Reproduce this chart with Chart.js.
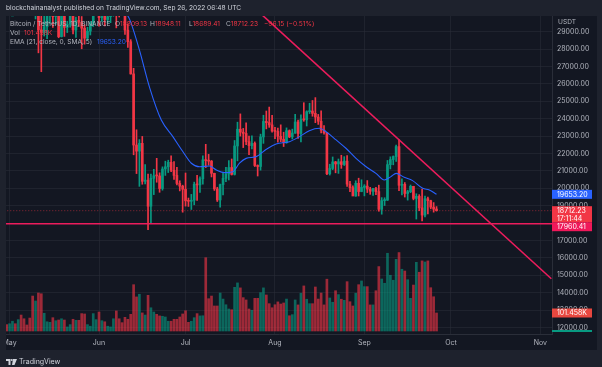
<!DOCTYPE html>
<html>
<head>
<meta charset="utf-8">
<script src="https://cdn.jsdelivr.net/npm/chart.js@4.4.1/dist/chart.umd.min.js"></script>
<style>
  html, body { margin: 0; padding: 0; background: #1e222d; }
  #wrap { position: relative; width: 602px; height: 367px; overflow: hidden; font-family: Inter, "Noto Sans", sans-serif; }
  #btc { position: absolute; left: 0; top: 0; }
  .t { position: absolute; white-space: nowrap; font-size: 6.6px; line-height: 9px; color: #b2b5be; }
  .r { color: #f23645; }
  .b { color: #2962ff; }
</style>
</head>
<body>
<div id="wrap">
  <canvas id="btc" width="602" height="367"></canvas>
  <div class="t" style="left:6px;top:3.5px;color:#d1d4dc">blockchainanalyst published on TradingView.com, Sep 26, 2022 06:48 UTC</div>
  <div class="t" style="left:10px;top:19.5px">Bitcoin / TetherUS, 1D, BINANCE</div>
  <div class="t" style="left:115px;top:19.5px">O<span class="r">18809.13</span></div>
  <div class="t" style="left:150px;top:19.5px">H<span class="r">18948.11</span></div>
  <div class="t" style="left:189px;top:19.5px">L<span class="r">18689.41</span></div>
  <div class="t" style="left:226px;top:19.5px">C<span class="r">18712.23</span></div>
  <div class="t r" style="left:264px;top:19.5px">−96.15 (−0.51%)</div>
  <div class="t" style="left:10px;top:29px">Vol</div>
  <div class="t r" style="left:24px;top:29px">101.458K</div>
  <div class="t" style="left:10px;top:38px">EMA (21, close, 0, SMA, 5)</div>
  <div class="t b" style="left:97px;top:38px">19653.20</div>
  <div class="t" style="left:558px;top:18px">USDT</div>
  <div class="t" style="left:6px;top:357px;font-size:7px;color:#d1d4dc">
    <svg width="11" height="6" viewBox="0 0 22 12" style="vertical-align:-0.5px"><path d="M0 0h9v12H5V4H0z M14 0h8l-5 12h-5z" fill="#d1d4dc"/><circle cx="11.5" cy="2" r="2" fill="#d1d4dc"/></svg>
    TradingView
  </div>
</div>
<script>
// daily candles, 30 Apr 2022 (day 0) .. 26 Sep 2022 (day 149)
var opens = [38596, 37630, 38468, 38525, 37728, 39690, 36552, 36014, 35468, 34039,
  30076, 31017, 29104, 28963, 29284, 30102, 31306, 29867, 30425, 28716,
  30316, 29245, 29432, 30323, 29098, 29655, 29542, 29201, 28629, 29031,
  29468, 31734, 31801, 29805, 30452, 29700, 29865, 29919, 31373, 31125,
  30205, 30110, 29091, 28424, 26574, 22487, 22136, 22583, 20401, 20468,
  18970, 20574, 20720, 20710, 19988, 21110, 21237, 21492, 21038, 20742,
  20281, 20124, 19942, 19280, 19253, 19316, 20234, 20195, 20549, 21637,
  21590, 21560, 20862, 19963, 19329, 20212, 20570, 20825, 21195, 20798,
  22432, 23396, 23223, 23152, 22684, 22452, 22579, 21310, 21254, 22952,
  23843, 23774, 23643, 23293, 23269, 22988, 22819, 22626, 23313, 22955,
  23175, 23810, 23150, 23954, 23934, 24403, 24441, 24305, 24095, 23854,
  23342, 23191, 20834, 21140, 21516, 21399, 21529, 21368, 21560, 20241,
  20037, 19555, 20285, 19813, 20050, 20127, 19953, 19832, 19987, 19812,
  18791, 19290, 19320, 21361, 21652, 21826, 22396, 20173, 20227, 19701,
  19803, 20113, 19417, 19537, 18875, 18461, 19402, 19289, 18920, 18809.13];
var highs = [38795, 38675, 39167, 38651, 40023, 39845, 36675, 36146, 35510, 34244,
  32659, 32190, 30033, 30999, 30343, 31460, 31307, 30788, 30671, 30545,
  30777, 29600, 30487, 30670, 29847, 30224, 29872, 29397, 29251, 29587,
  32222, 32399, 31982, 30689, 30679, 29955, 30172, 31765, 31589, 31325,
  30700, 30390, 29440, 28544, 26895, 23363, 22800, 22980, 21365, 20815,
  20815, 21090, 21723, 20890, 21233, 21558, 21614, 21868, 21540, 21210,
  20432, 20179, 20879, 19440, 19650, 20354, 20750, 20660, 21860, 22527,
  21950, 21600, 20868, 20059, 20242, 20880, 21200, 21592, 21684, 22747,
  23800, 24276, 23442, 23756, 22998, 23014, 22666, 21347, 23112, 24199,
  24442, 24668, 24194, 23509, 23459, 23647, 23223, 23472, 23354, 23400,
  24245, 23925, 24227, 24918, 24456, 24888, 25047, 25212, 24247, 24446,
  23600, 23208, 21382, 21800, 21548, 21684, 21900, 21819, 21887, 20402,
  20142, 20432, 20580, 20489, 20209, 20445, 20055, 20000, 20058, 20180,
  19464, 19457, 21600, 21811, 21860, 22488, 22799, 20542, 20330, 19890,
  20189, 20117, 19686, 19634, 19956, 19550, 19500, 19316, 19180, 18948.11];
var lows = [37578, 37386, 38052, 37511, 37670, 35571, 35258, 34785, 33713, 30033,
  29731, 27785, 26700, 28751, 28604, 29480, 29251, 29424, 28654, 28693,
  28730, 28950, 29255, 28866, 28669, 29295, 28019, 28282, 28500, 28810,
  29300, 31200, 29311, 29594, 29332, 29485, 29520, 29892, 29219, 29844,
  29945, 28850, 28100, 26560, 21925, 20846, 20111, 20232, 20246, 17622,
  17960, 19637, 20348, 19771, 19892, 20740, 20906, 20950, 20510, 20200,
  19850, 18626, 18975, 18957, 18782, 19052, 19304, 19760, 20240, 21189,
  21330, 20652, 19875, 19240, 18910, 19616, 20381, 20478, 20761, 20761,
  21580, 23000, 22341, 22500, 21934, 22256, 21250, 20706, 21042, 22582,
  23414, 23502, 23227, 22850, 22654, 22681, 22400, 22587, 22910, 22837,
  23150, 22865, 22664, 23852, 23580, 24296, 24140, 23773, 23671, 23180,
  23111, 20783, 20761, 21069, 20890, 20856, 21145, 21310, 20107, 19800,
  19600, 19540, 19558, 19800, 19565, 19755, 19652, 19596, 19633, 18681,
  18510, 19011, 19297, 21111, 21350, 21538, 19860, 19617, 19497, 19320,
  19748, 19335, 18232, 18711, 18125, 18356, 18531, 18821, 18629, 18689.41];
var closes = [37630, 38468, 38525, 37728, 39690, 36552, 36014, 35468, 34039, 30076,
  31017, 29104, 28963, 29284, 30102, 31306, 29867, 30425, 28716, 30316,
  29245, 29432, 30323, 29098, 29655, 29542, 29201, 28629, 29031, 29468,
  31734, 31801, 29805, 30452, 29700, 29865, 29919, 31373, 31125, 30205,
  30110, 29091, 28424, 26574, 22487, 22136, 22583, 20401, 20468, 18970,
  20574, 20720, 20710, 19988, 21110, 21237, 21492, 21038, 20742, 20281,
  20124, 19942, 19280, 19253, 19316, 20234, 20195, 20549, 21637, 21590,
  21560, 20862, 19963, 19329, 20212, 20570, 20825, 21195, 20798, 22432,
  23396, 23223, 23152, 22684, 22452, 22579, 21310, 21254, 22952, 23843,
  23774, 23643, 23293, 23269, 22988, 22819, 22626, 23313, 22955, 23175,
  23810, 23150, 23954, 23934, 24403, 24441, 24305, 24095, 23854, 23342,
  23191, 20834, 21140, 21516, 21399, 21529, 21368, 21560, 20241, 20037,
  19555, 20285, 19813, 20050, 20127, 19953, 19832, 19987, 19812, 18791,
  19290, 19320, 21361, 21652, 21826, 22396, 20173, 20227, 19701, 19803,
  20113, 19417, 19537, 18875, 18461, 19402, 19289, 18920, 18803, 18712.23];
// volume in thousands of BTC
var volumes = [36, 41, 55, 41, 64, 90, 69, 34, 73, 197,
  169, 214, 210, 100, 52, 49, 75, 58, 62, 69,
  62, 23, 36, 66, 60, 60, 98, 96, 36, 27,
  98, 64, 107, 58, 52, 27, 23, 69, 113, 69,
  47, 77, 66, 94, 261, 192, 207, 102, 90, 201,
  131, 107, 94, 85, 83, 79, 55, 55, 66, 66,
  79, 96, 114, 49, 55, 75, 98, 85, 86, 413,
  182, 197, 141, 141, 214, 180, 148, 124, 120, 246,
  271, 243, 188, 175, 124, 117, 184, 184, 216, 243,
  203, 154, 131, 148, 164, 152, 158, 180, 86, 92,
  175, 147, 213, 254, 179, 154, 154, 248, 180, 214,
  147, 292, 186, 162, 227, 205, 179, 173, 278, 165,
  141, 213, 261, 282, 250, 250, 147, 147, 227, 363,
  293, 269, 438, 314, 286, 404, 442, 348, 338, 289,
  184, 259, 387, 331, 395, 389, 395, 244, 193, 101.458];

// EMA (21, close, 0, SMA, 5)
var emaDays = [30, 36, 40, 42, 43, 46, 49.6, 53.6, 57.6, 61.1, 64, 66.9, 70.3, 72.7, 75.5, 78.4,
  80.7, 83, 86.5, 90, 93.4, 98, 101.5, 104.9, 108.4, 110.7, 114.2, 117.6, 121.1, 124.6,
  128, 130.9, 133.2, 135, 137.8, 140.7, 144.2, 146.5, 149];
var emaValues = [30700, 30300, 30100, 29900, 29550, 27950, 25760, 23920, 22970, 22100, 21440, 21240, 21280, 21050, 20900, 20950,
  21440, 21720, 21820, 22240, 22550, 22680, 22970, 23310, 23450, 23250, 22780, 22300, 21720, 21240,
  20860, 20480, 20670, 20860, 20630, 20440, 20000, 19900, 19653.2];

// drawings
var trendDays = [88, 188.8];
var trendValues = [30045, 14800];
var supportLevel = 17960.41;
var lastClose = 18712.23;
var emaLast = 19653.20;
var lastVolume = 101.458;

var monthDays = [1, 32, 62, 93, 124, 154, 185];
var monthLabels = ['May', 'Jun', 'Jul', 'Aug', 'Sep', 'Oct', 'Nov'];
var priceTicks = [12000, 13000, 14000, 15000, 16000, 17000, 18000, 19000, 20000,
  21000, 22000, 23000, 24000, 25000, 26000, 27000, 28000, 29000];

var upColor = '#089981';
var downColor = '#f23645';
var lineColor = '#ec1c5c';

var candleColors = closes.map(function(c, i) {
    return c >= opens[i] ? upColor : downColor;
});
var volColors = closes.map(function(c, i) {
    return c >= opens[i] ? 'rgba(8,153,129,0.62)' : 'rgba(242,54,69,0.62)';
});

var bodyData = opens.map(function(o, i) { return { x: i, y: [o, closes[i]] }; });
var wickData = lows.map(function(l, i) { return { x: i, y: [l, highs[i]] }; });
var volData = volumes.map(function(v, i) { return { x: i, y: v }; });
var emaData = emaDays.map(function(d, i) { return { x: d, y: emaValues[i] }; });

var bgPlugin = {
    id: 'bgPlugin',
    beforeDraw: function(chart) {
        var ctx = chart.ctx;
        ctx.save();
        ctx.fillStyle = '#1e222d';
        ctx.fillRect(0, 0, chart.width, chart.height);
        ctx.fillStyle = '#131722';
        ctx.fillRect(6, 16, 591, 334);
        ctx.restore();
    },
    afterDraw: function(chart) {
        var ctx = chart.ctx;
        var y = chart.scales.y;
        var yv = chart.scales.yv;
        var x0 = chart.chartArea.right;
        var w = 40;
        ctx.save();
        ctx.fillStyle = '#1e222d';
        ctx.fillRect(0, 16, 6, 334);

        ctx.font = '7px Inter, sans-serif';
        ctx.textBaseline = 'middle';
        var boxes = [
            { value: emaLast, lines: ['19653.20'], bg: '#2962ff' },
            { value: lastClose, lines: ['18712.23', '17:11:44'], bg: '#f23645' },
            { value: supportLevel, lines: ['17960.41'], bg: '#f0185a' }
        ];
        var prevBottom = -1000;
        boxes.forEach(function(b) {
            var py = y.getPixelForValue(b.value);
            var h = b.lines.length === 1 ? 9 : 16;
            var top = Math.max(py - 4.5, prevBottom);
            ctx.fillStyle = b.bg;
            ctx.fillRect(x0, top, w, h);
            ctx.fillStyle = '#ffffff';
            b.lines.forEach(function(t, i) {
                ctx.fillText(t, x0 + 5, top + 4.8 + i * 7.5);
            });
            prevBottom = top + h;
        });

        var vy = yv.getPixelForValue(lastVolume);
        ctx.fillStyle = '#e8473f';
        ctx.fillRect(x0, vy - 4.5, w, 9);
        ctx.fillStyle = '#ffffff';
        ctx.fillText('101.458K', x0 + 5, vy + 0.3);

        ctx.fillStyle = upColor;
        ctx.fillRect(x0, yv.getPixelForValue(0) - 1, w, 2);
        ctx.restore();
    }
};

var ctx = document.getElementById('btc').getContext('2d');

var chart = new Chart(ctx, {
    type: 'bar',
    data: {
        datasets: [{
            type: 'line',
            label: 'Trend',
            data: trendDays.map(function(d, i) { return { x: d, y: trendValues[i] }; }),
            borderColor: lineColor,
            borderWidth: 1.6,
            pointRadius: 0,
            yAxisID: 'y',
            order: 0
        }, {
            type: 'line',
            label: 'Support',
            data: [{ x: -5, y: supportLevel }, { x: 195, y: supportLevel }],
            borderColor: lineColor,
            borderWidth: 1.6,
            pointRadius: 0,
            yAxisID: 'y',
            order: 0
        }, {
            type: 'line',
            label: 'Last',
            data: [{ x: -5, y: lastClose }, { x: 195, y: lastClose }],
            borderColor: 'rgba(242,54,69,0.55)',
            borderWidth: 1,
            borderDash: [1, 2],
            pointRadius: 0,
            yAxisID: 'y',
            order: 1
        }, {
            type: 'line',
            label: 'EMA',
            data: emaData,
            borderColor: '#2962ff',
            borderWidth: 1.1,
            pointRadius: 0,
            cubicInterpolationMode: 'monotone',
            yAxisID: 'y',
            order: 1
        }, {
            label: 'Body',
            data: bodyData,
            backgroundColor: candleColors,
            barThickness: 2,
            minBarLength: 1,
            grouped: false,
            yAxisID: 'y',
            order: 2
        }, {
            label: 'Wick',
            data: wickData,
            backgroundColor: candleColors,
            barThickness: 1,
            grouped: false,
            yAxisID: 'y',
            order: 3
        }, {
            label: 'Vol',
            data: volData,
            backgroundColor: volColors,
            barThickness: 2,
            grouped: false,
            yAxisID: 'yv',
            order: 5
        }]
    },
    options: {
        responsive: false,
        animation: false,
        events: [],
        layout: {
            padding: { top: 16, left: 6, right: 6, bottom: 16 }
        },
        plugins: {
            legend: { display: false },
            tooltip: { enabled: false }
        },
        scales: {
            x: {
                type: 'linear',
                min: -0.24,
                max: 189.03,
                offset: false,
                grid: { color: 'rgba(42,46,57,0.55)', drawTicks: false, offset: false },
                border: { color: '#2a2e39' },
                afterBuildTicks: function(scale) {
                    scale.ticks = monthDays.map(function(d) { return { value: d }; });
                },
                afterFit: function(scale) {
                    scale.height = 17;
                    scale.paddingLeft = 0;
                    scale.paddingRight = 0;
                },
                ticks: {
                    autoSkip: false,
                    maxRotation: 0,
                    padding: 5,
                    color: '#b2b5be',
                    font: { family: 'Inter', size: 7 },
                    callback: function(value) {
                        return monthLabels[monthDays.indexOf(value)];
                    }
                }
            },
            y: {
                position: 'right',
                min: 11626,
                max: 29902,
                grid: { color: 'rgba(42,46,57,0.55)', drawTicks: false },
                border: { color: '#2a2e39' },
                afterBuildTicks: function(scale) {
                    scale.ticks = priceTicks.map(function(p) { return { value: p }; });
                },
                afterFit: function(scale) {
                    scale.width = 44;
                    scale.paddingTop = 0;
                    scale.paddingBottom = 0;
                },
                ticks: {
                    padding: 5,
                    color: '#b2b5be',
                    font: { family: 'Inter', size: 7 },
                    callback: function(value) {
                        return value.toFixed(2);
                    }
                }
            },
            yv: {
                display: false,
                min: -16.9,
                max: 1775
            }
        }
    },
    plugins: [bgPlugin]
});
</script>
</body>
</html>
